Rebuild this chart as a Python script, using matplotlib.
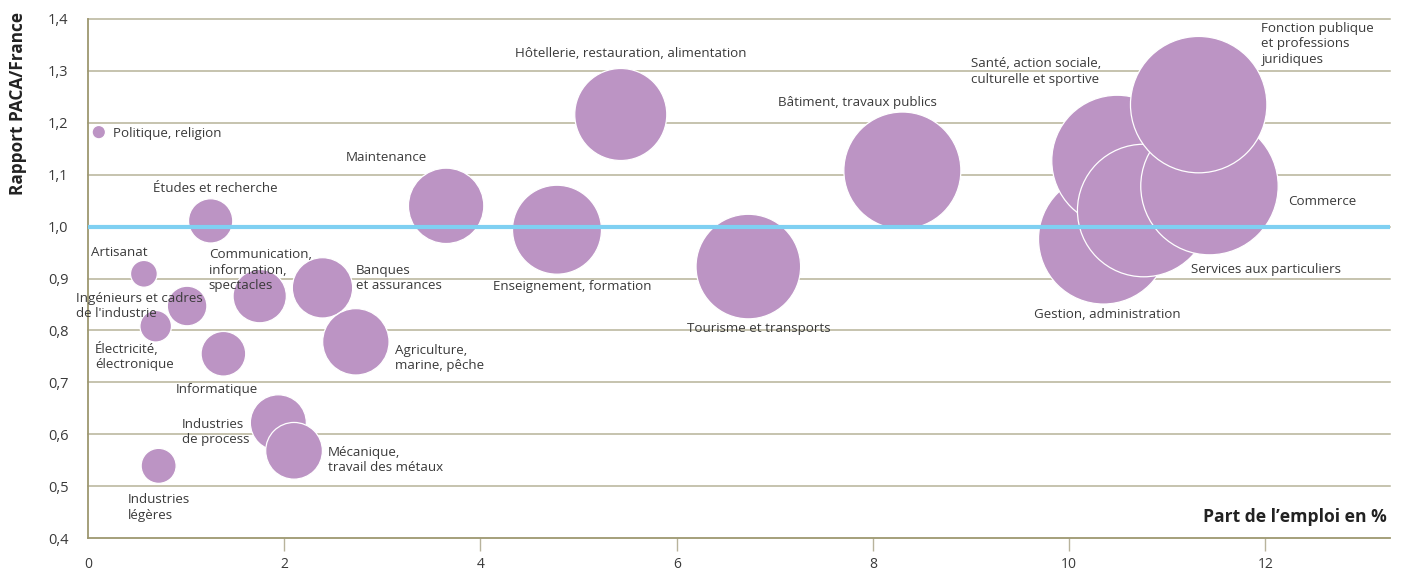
import matplotlib
matplotlib.use("Agg")
import matplotlib.pyplot as plt

# ---- data ----
metiers = [
    "Politique, religion", "Études et recherche", "Artisanat",
    "Ingénieurs et cadres\nde l'industrie", "Électricité,\nélectronique",
    "Informatique", "Communication,\ninformation,\nspectacles",
    "Banques\net assurances", "Agriculture,\nmarine, pêche",
    "Industries\nde process", "Mécanique,\ntravail des métaux",
    "Industries\nlégères", "Maintenance",
    "Hôtellerie, restauration, alimentation", "Enseignement, formation",
    "Tourisme et transports", "Bâtiment, travaux publics",
    "Gestion, administration", "Santé, action sociale,\nculturelle et sportive",
    "Services aux particuliers", "Commerce",
    "Fonction publique\net professions\njuridiques",
]
part_emploi = [0.11, 1.25, 0.57, 1.01, 0.69, 1.38, 1.75, 2.39, 2.73, 1.94,
               2.10, 0.72, 3.65, 5.43, 4.78, 6.73, 8.30, 10.35, 10.49, 10.76,
               11.43, 11.32]
rapport = [1.182, 1.011, 0.909, 0.847, 0.808, 0.755, 0.866, 0.882, 0.778,
           0.622, 0.568, 0.539, 1.040, 1.216, 0.994, 0.923, 1.108, 0.976,
           1.127, 1.031, 1.078, 1.235]
poids = [0.11, 1.20, 0.44, 0.96, 0.61, 1.22, 1.74, 2.23, 2.70, 1.92, 1.97,
         0.75, 3.48, 5.19, 4.85, 6.70, 8.39, 10.35, 10.50, 10.77, 11.57, 11.40]
# label anchor (left edge, vertical centre) in data units
label_x = [0.255, 0.662, 0.03, -0.122, 0.071, 0.897, 1.23, 2.73, 3.128,
           0.958, 2.445, 0.41, 2.63, 4.35, 4.13, 6.10, 7.03, 9.64, 9.00,
           11.24, 12.23, 11.96]
label_y = [1.180, 1.074, 0.951, 0.847, 0.750, 0.687, 0.916, 0.901, 0.747,
           0.604, 0.550, 0.459, 1.134, 1.333, 0.884, 0.803, 1.240, 0.830,
           1.299, 0.918, 1.049, 1.352]
x_ticks = [0, 2, 4, 6, 8, 10, 12]
y_ticks = [0.4, 0.5, 0.6, 0.7, 0.8, 0.9, 1.0, 1.1, 1.2, 1.3, 1.4]
reference = 1.0

plt.rcParams['font.family'] = ['Open Sans', 'DejaVu Sans']

fig = plt.figure(figsize=(14.02, 5.71), dpi=100)
ax = fig.add_axes([88/1402, 1-538/571, (1390-88)/1402, (538-19)/571])

ax.set_xlim(0, 13.27)
ax.set_ylim(0.4, 1.4)

grid_col = '#b7b398'
spine_col = '#9d9770'
for yv in y_ticks[1:]:
    ax.axhline(yv, color=grid_col, lw=1.1, zorder=1, clip_on=False)

bubble_col = '#bc94c4'
scale = 846  # points^2 per unit of weight
ax.scatter(part_emploi, rapport, s=[p*scale for p in poids], c=bubble_col,
           edgecolors='white', linewidths=0.9, zorder=3)

ax.axhline(reference, color='#7fd0f2', lw=3.0, zorder=4)

for name, lx, ly in zip(metiers, label_x, label_y):
    ax.text(lx, ly, name, ha='left', va='center', fontsize=9.6,
            color='#3a3a3a', linespacing=1.25, zorder=5, clip_on=False)

for s in ['top', 'right']:
    ax.spines[s].set_visible(False)
for s in ['left', 'bottom']:
    ax.spines[s].set_color(spine_col)
    ax.spines[s].set_linewidth(1.3)

ax.set_xticks(x_ticks)
ax.set_xticklabels([str(t) for t in x_ticks])
ax.set_yticks(y_ticks)
ax.set_yticklabels([f"{t:.1f}".replace('.', ',') for t in y_ticks])
ax.tick_params(axis='x', direction='out', length=9, width=1, color='#b8b39c',
               pad=4.5, labelsize=10, labelcolor='#3a3a3a')
ax.tick_params(axis='y', length=0, pad=14, labelsize=10.5, labelcolor='#3a3a3a')
ax.xaxis.get_major_ticks()[0].tick1line.set_visible(False)

fig.text(18/1402, 1-12/571, "Rapport PACA/France", rotation=90, ha='center',
         va='top', fontsize=12.4, fontweight='bold', color='#222222')
fig.text(1387/1402, 1-517/571, "Part de l\u2019emploi en %", ha='right',
         va='center', fontsize=12.6, fontweight='bold', color='#222222')

fig.savefig("out.png", dpi=100, facecolor='white')
